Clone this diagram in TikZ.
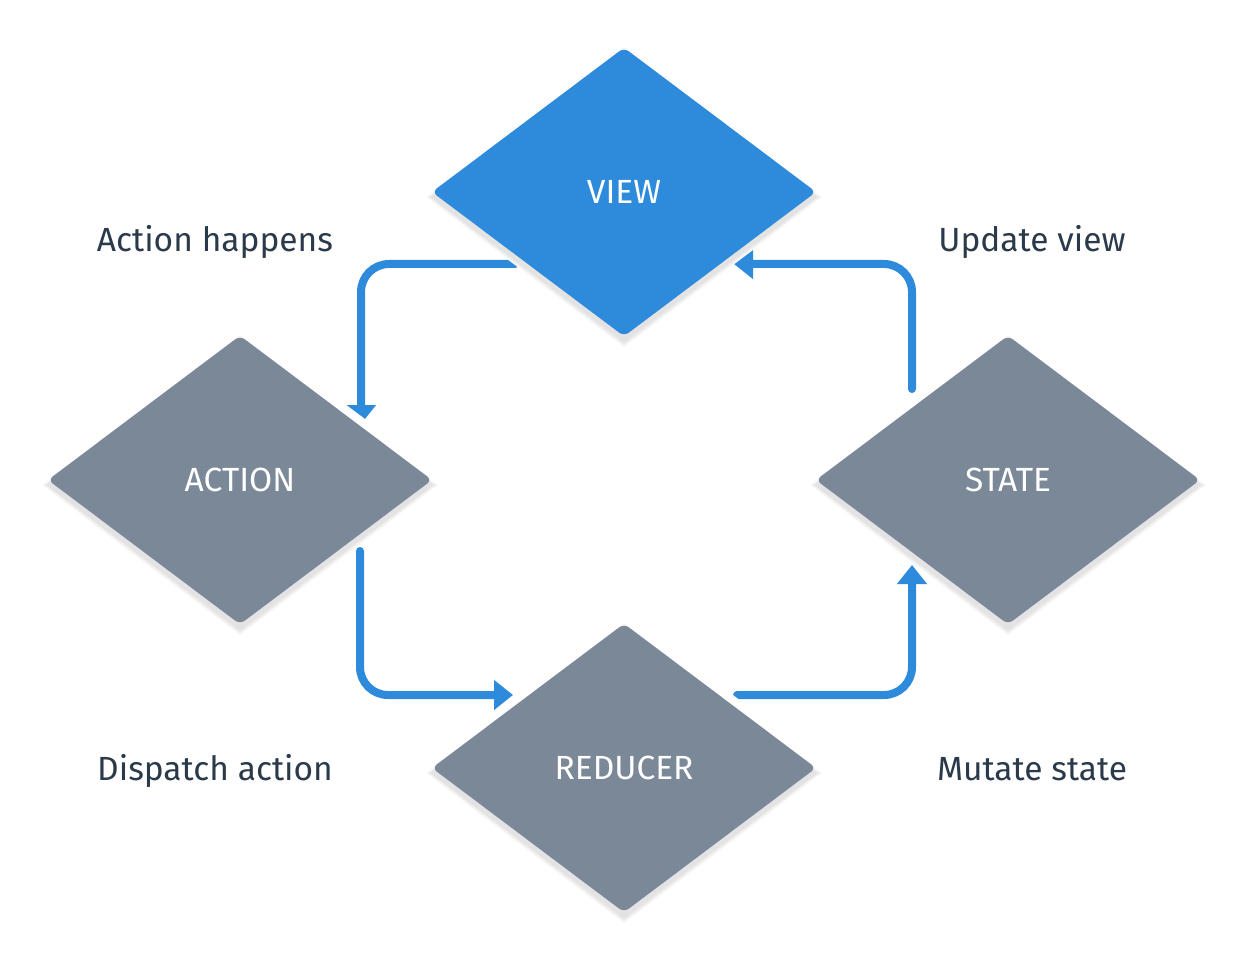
\documentclass[tikz,border=0pt]{standalone}
\usepackage{fontspec}
\setmainfont{Fira Sans}
\usetikzlibrary{shapes.geometric,arrows.meta,calc}
\pgfdeclarelayer{arrowlayer}
\pgfdeclarelayer{halolayer}
\pgfdeclarelayer{shadowlayer}
\pgfsetlayers{arrowlayer,halolayer,shadowlayer,main}
\definecolor{viewblue}{HTML}{2E8ADB}
\definecolor{boxgray}{HTML}{7A8897}
\definecolor{labeltext}{HTML}{2B3A4B}
\tikzset{
  dnode/.style={diamond, aspect=1.3310, minimum width=384pt, minimum height=288.5pt,
    inner sep=0pt, outer sep=0pt, rounded corners=6pt, text=white,
    font=\fontsize{33.5}{40}\selectfont},
  flow/.style={draw=viewblue, line width=8pt, line cap=round, rounded corners=28pt,
    -{Triangle[width=29pt,length=19pt]}},
  steplabel/.style={anchor=base, text=labeltext, font=\fontsize{33.5}{40}\selectfont},
}
\begin{document}
\begin{tikzpicture}[x=1pt,y=-1pt]
\useasboundingbox (0,0) rectangle (1248,960);
% diamonds
\node[dnode, fill=viewblue] (view) at (624,192) {VIEW};
\node[dnode, fill=boxgray] (action) at (240,480) {ACTION};
\node[dnode, fill=boxgray] (state) at (1008,480) {STATE};
\node[dnode, fill=boxgray] (reducer) at (624,768) {REDUCER};
% white halo and soft shadow
\foreach \n in {view,action,state,reducer}{
  \begin{pgfonlayer}{halolayer}
    \draw[white, line width=17pt, line join=round]
      (\n.north) -- (\n.east) -- (\n.south) -- (\n.west) -- cycle;
  \end{pgfonlayer}
  \begin{pgfonlayer}{shadowlayer}
    \foreach \k in {1,...,7}{
      \fill[black, opacity=0.016]
        ($(\n.north)+(0,5-0.9*\k)$) -- ($(\n.east)+(0.9*\k,5)$) --
        ($(\n.south)+(0,5+0.9*\k)$) -- ($(\n.west)+(-0.9*\k,5)$) -- cycle;
    }
  \end{pgfonlayer}
}
% connectors
\begin{pgfonlayer}{arrowlayer}
  \fill[white] (0,0) rectangle (1248,960);
  \draw[flow] ($(view.center)+(-109,72)$) -| ($(action.center)+(121,-56)$);
  \draw[flow] ($(action.center)+(120,71)$) |- ($(reducer.center)+(-111,-73)$);
  \draw[flow] ($(reducer.center)+(113,-73)$) -| ($(state.center)+(-96,85)$);
  \draw[flow] ($(state.center)+(-96,-91)$) |- ($(view.center)+(110,72)$);
\end{pgfonlayer}
% labels
\node[steplabel] (lhappens) at (215,252) {Action happens};
\node[steplabel] (lupdate) at (1032,252) {Update view};
\node[steplabel] (ldispatch) at (215,780) {Dispatch action};
\node[steplabel] (lmutate) at (1032,780) {Mutate state};
\end{tikzpicture}
\end{document}
